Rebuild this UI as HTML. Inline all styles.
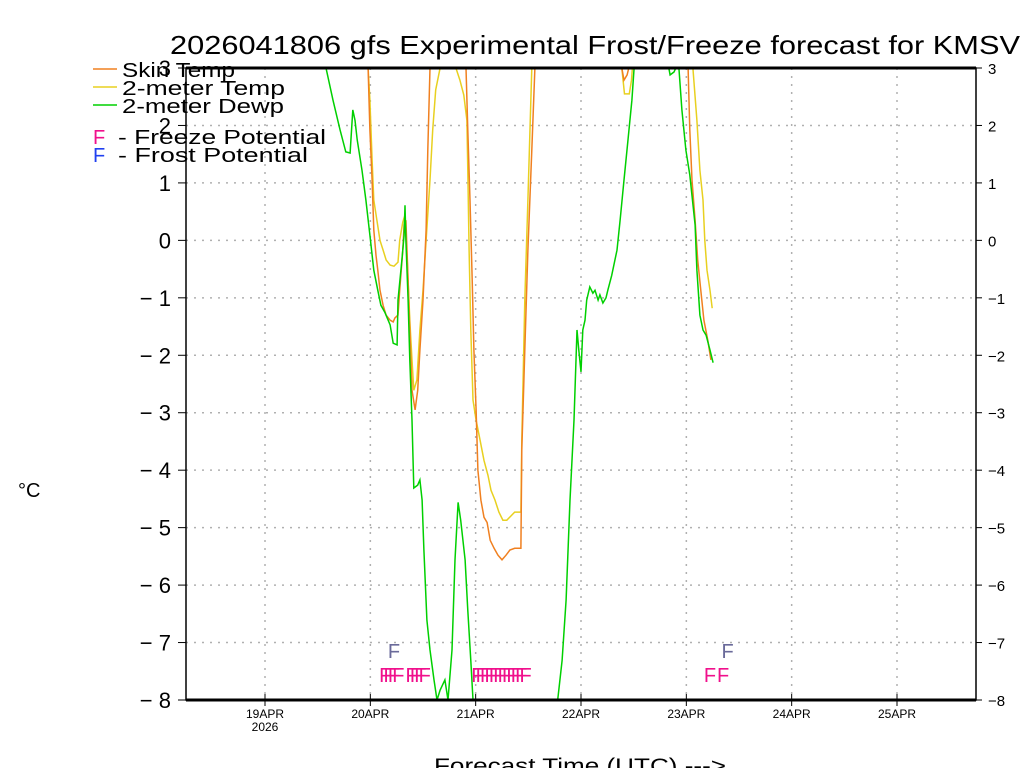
<!DOCTYPE html>
<html><head><meta charset="utf-8"><style>
html,body{margin:0;padding:0;background:#fff;}
svg{display:block;font-family:"Liberation Sans",sans-serif;}
</style></head><body>
<svg id="chart" width="1024" height="768" viewBox="0 0 1024 768">
<defs><clipPath id="plotclip"><rect x="186" y="68" width="790" height="632"/></clipPath></defs>
<g id="grid"></g>
<g id="series" clip-path="url(#plotclip)"></g>
<g id="markers"></g>
<rect x="186" y="68" width="790" height="632" fill="none" stroke="#000" stroke-width="1.5"/>
<line x1="186" y1="68" x2="976" y2="68" stroke="#000" stroke-width="3"/>
<line x1="186" y1="700" x2="976" y2="700" stroke="#000" stroke-width="3"/>
<g id="yticks"></g>
<g id="xticks"></g>
<text x="170" y="54" font-size="26" textLength="850" lengthAdjust="spacingAndGlyphs">2026041806 gfs Experimental Frost/Freeze forecast for KMSV</text>
<text x="18" y="497" font-size="20">°C</text>
<text x="434" y="773" font-size="21" textLength="292" lengthAdjust="spacingAndGlyphs">Forecast Time (UTC) ---&gt;</text>
<g>
<g><line x1="93" y1="69" x2="117" y2="69" stroke="#f08020" stroke-width="1.5"/><text x="122" y="77" font-size="20" textLength="113" lengthAdjust="spacingAndGlyphs">Skin Temp</text></g>
<g><line x1="93" y1="87" x2="117" y2="87" stroke="#e8d020" stroke-width="1.5"/><text x="122" y="95" font-size="20" textLength="163" lengthAdjust="spacingAndGlyphs">2-meter Temp</text></g>
<g><line x1="93" y1="105" x2="117" y2="105" stroke="#00d000" stroke-width="1.5"/><text x="122" y="113" font-size="20" textLength="162" lengthAdjust="spacingAndGlyphs">2-meter Dewp</text></g>
<g><text x="93" y="144" font-size="20" fill="#f0108c">F</text><text x="118" y="144" font-size="20" textLength="208" lengthAdjust="spacingAndGlyphs">- Freeze Potential</text></g>
<g><text x="93" y="162" font-size="20" fill="#2040f0">F</text><text x="118" y="162" font-size="20" textLength="190" lengthAdjust="spacingAndGlyphs">- Frost Potential</text></g>
</g>
</svg>
<script>
// hours since 18APR 06Z, values in deg C
const skinHours=[35,41.5,41.9,42.4,42.8,43.3,43.7,44.2,44.9,45.6,46.5,47.2,47.6,48.3,48.7,49.4,49.7,50.1,50.6,51.0,51.5,52.2,52.8,53.3,54.0,54.7,55.1,55.6,57,63,63.8,64.2,64.7,65.2,65.6,66.1,66.5,67.2,67.9,68.6,69.3,70.2,71.1,72.0,72.9,73.8,74.9,76.3,76.5,77.2,77.9,78.8,79.5,82,99,99.3,99.8,100.5,100.9,103,112,114.4,114.8,115.3,116.0,116.6,117.3,118.0,118.9,119.6];
const skinValues=[4,3.0,1.92,1.05,0.18,-0.26,-0.52,-0.87,-1.13,-1.30,-1.39,-1.42,-1.35,-1.30,-0.87,-0.17,0.27,0.35,-0.69,-1.56,-2.61,-2.95,-2.61,-1.91,-1.04,0.18,1.57,3.0,4,4,3.0,1.92,0.70,-0.69,-1.91,-2.95,-4.0,-4.52,-4.82,-4.91,-5.22,-5.36,-5.48,-5.56,-5.48,-5.39,-5.36,-5.36,-3.65,-1.91,-0.17,1.57,3.0,4,4,3.0,2.79,2.88,3.0,4,4,3.0,1.92,1.05,0.35,-0.34,-0.87,-1.39,-1.74,-2.08];
const t2Hours=[35,41.5,41.9,42.4,42.8,43.5,44.2,44.9,45.6,46.5,47.4,48.3,48.7,49.4,49.9,50.4,51.0,51.5,51.9,52.6,53.3,54.0,54.7,55.6,56.2,56.9,57.9,59,61,61.5,62.4,63.3,64.0,64.2,64.5,64.9,65.4,66.1,67.0,67.9,68.8,69.5,70.4,71.3,72.2,73.1,74.0,74.9,76.3,76.5,77.2,77.9,78.8,82,99,99.3,99.9,101.0,101.5,101.7,104,112,115.5,116.4,117.1,117.8,118.2,118.7,119.4,119.9];
const t2Values=[4,3.0,2.44,1.40,0.70,0.35,0.0,-0.17,-0.34,-0.43,-0.45,-0.38,0.0,0.32,0.44,-0.34,-1.39,-2.08,-2.61,-2.43,-1.56,-0.87,0.0,1.05,1.92,2.62,3.0,4,4,3.0,2.79,2.53,2.09,1.22,-0.17,-1.56,-2.78,-3.13,-3.48,-3.83,-4.09,-4.35,-4.52,-4.73,-4.87,-4.87,-4.80,-4.73,-4.73,-3.48,-1.04,0.70,3.0,4,4,3.0,2.55,2.55,2.79,3.0,4,4,3.0,2.09,1.22,0.70,0.0,-0.52,-0.87,-1.18];
const dewHours=[20,31.9,33.5,35.1,36.4,37.4,38.0,38.5,39.0,40.1,41.0,41.9,42.8,43.7,44.4,45.3,46.5,47.2,48.1,48.3,49.2,49.7,49.9,50.1,50.6,51.0,51.5,51.9,52.8,53.3,53.8,54.2,54.9,55.6,56.5,57.2,57.9,59.0,59.7,60.6,61.3,62.0,62.6,63.6,64.2,64.9,65.4,66,80,84,84.7,85.7,86.6,87.5,88.4,89.1,89.5,90.0,90.4,90.9,91.3,92.0,92.7,93.2,93.9,94.3,95.0,95.7,96.1,97.0,98.2,98.9,99.8,100.7,101.6,102.1,104,109,110.0,110.3,111.2,111.6,112.0,112.3,113.0,113.9,114.8,116.0,116.4,117.1,117.8,118.5,119.4,120.1];
const dewValues=[4,3.0,2.44,1.92,1.54,1.52,2.27,2.09,1.75,1.22,0.70,0.09,-0.52,-0.87,-1.13,-1.25,-1.47,-1.79,-1.82,-1.04,-0.34,0.09,0.61,0.0,-1.04,-2.08,-3.13,-4.31,-4.26,-4.17,-4.52,-5.39,-6.61,-7.13,-7.65,-8.0,-7.83,-7.65,-8.0,-7.13,-5.56,-4.56,-4.87,-5.56,-6.44,-7.31,-8.0,-8.6,-9.5,-8.6,-8.0,-7.31,-6.26,-4.52,-3.13,-1.56,-1.91,-2.29,-1.56,-1.39,-1.04,-0.81,-0.92,-0.87,-1.04,-0.95,-1.09,-1.0,-0.87,-0.61,-0.17,0.35,1.05,1.75,2.44,3.0,4,4,3.0,2.88,2.93,3.0,3.2,3.0,2.27,1.57,1.14,0.27,-0.52,-1.30,-1.56,-1.65,-1.91,-2.13];
const freezeHours=[44,45,46,47,50,51,52,53,65,66,67,68,69,70,71,72,73,74,75,76,118,121];
const frostHours=[46,122];
const yTicks=[-8,-7,-6,-5,-4,-3,-2,-1,0,1,2,3];
const dayHours=[18,42,66,90,114,138,162];
const dayLabels=["19APR","20APR","21APR","22APR","23APR","24APR","25APR"];

const NS="http://www.w3.org/2000/svg";
const X0=186,X1=976,Y0=68,Y1=700,HMAX=180,VMIN=-8,VMAX=3;
function xs(h){return X0+(h/HMAX)*(X1-X0);}
function ys(v){return Y0+(VMAX-v)/(VMAX-VMIN)*(Y1-Y0);}
function mk(tag,attrs,parent){const e=document.createElementNS(NS,tag);for(const k in attrs)e.setAttribute(k,attrs[k]);parent.appendChild(e);return e;}
const grid=document.getElementById('grid'),yt=document.getElementById('yticks'),xt=document.getElementById('xticks');
yTicks.forEach(v=>{
  const y=ys(v);
  if(v>VMIN&&v<VMAX){const g=mk('line',{x1:X0,x2:X1,y1:y,y2:y,stroke:'#b0b0b0','stroke-dasharray':'2,6','stroke-width':1.5},grid);
  
  }
  const l=mk('line',{x1:X0-8,x2:X0,y1:y,y2:y,stroke:'#000'},yt);
  
  
  const r=mk('line',{x1:X1,x2:X1+6,y1:y,y2:y,stroke:'#000'},yt);
  
  
  const t=mk('text',{x:X0-15,y:y+8,'font-size':22,'text-anchor':'end'},yt);t.textContent=String(v).replace('-','− ');
  
  
  const t2=mk('text',{x:X1+12,y:y+6,'font-size':15},yt);t2.textContent=String(v).replace('-','−');
  
  
});
dayHours.forEach((h,i)=>{
  const x=xs(h);
  const g=mk('line',{x1:x,x2:x,y1:Y0,y2:Y1,stroke:'#b0b0b0','stroke-dasharray':'2,6','stroke-width':1.5},grid);
  
  
  const tk=mk('line',{x1:x,x2:x,y1:Y1-6,y2:Y1+6,stroke:'#000'},xt);
  
  
  const t=mk('text',{x:x,y:718,'font-size':12,'text-anchor':'middle'},xt);t.textContent=dayLabels[i];
  
  
});
const yr=mk('text',{x:xs(dayHours[0]),y:731,'font-size':12,'text-anchor':'middle'},xt);yr.textContent='2026';


const ser=document.getElementById('series');
function line(hs,vs,color,name){
  const d=hs.map((h,i)=>(i?'L':'M')+xs(h).toFixed(1)+','+ys(vs[i]).toFixed(1)).join('');
  const p=mk('path',{d:d,fill:'none',stroke:color,'stroke-width':1.5},ser);
  
  
}
line(t2Hours,t2Values,'#e8d020','line-2m-temp');
line(skinHours,skinValues,'#f08020','line-skin-temp');
line(dewHours,dewValues,'#00d000','line-2m-dewp');
const mg=document.getElementById('markers');
freezeHours.forEach(h=>{
  const t=mk('text',{x:xs(h),y:682,'font-size':20,fill:'#f0108c'},mg);t.textContent='F';
  
  
});
frostHours.forEach(h=>{
  const t=mk('text',{x:xs(h),y:658,'font-size':20,fill:'#6a6a9a'},mg);t.textContent='F';
  
  
});
</script>
</body></html>
